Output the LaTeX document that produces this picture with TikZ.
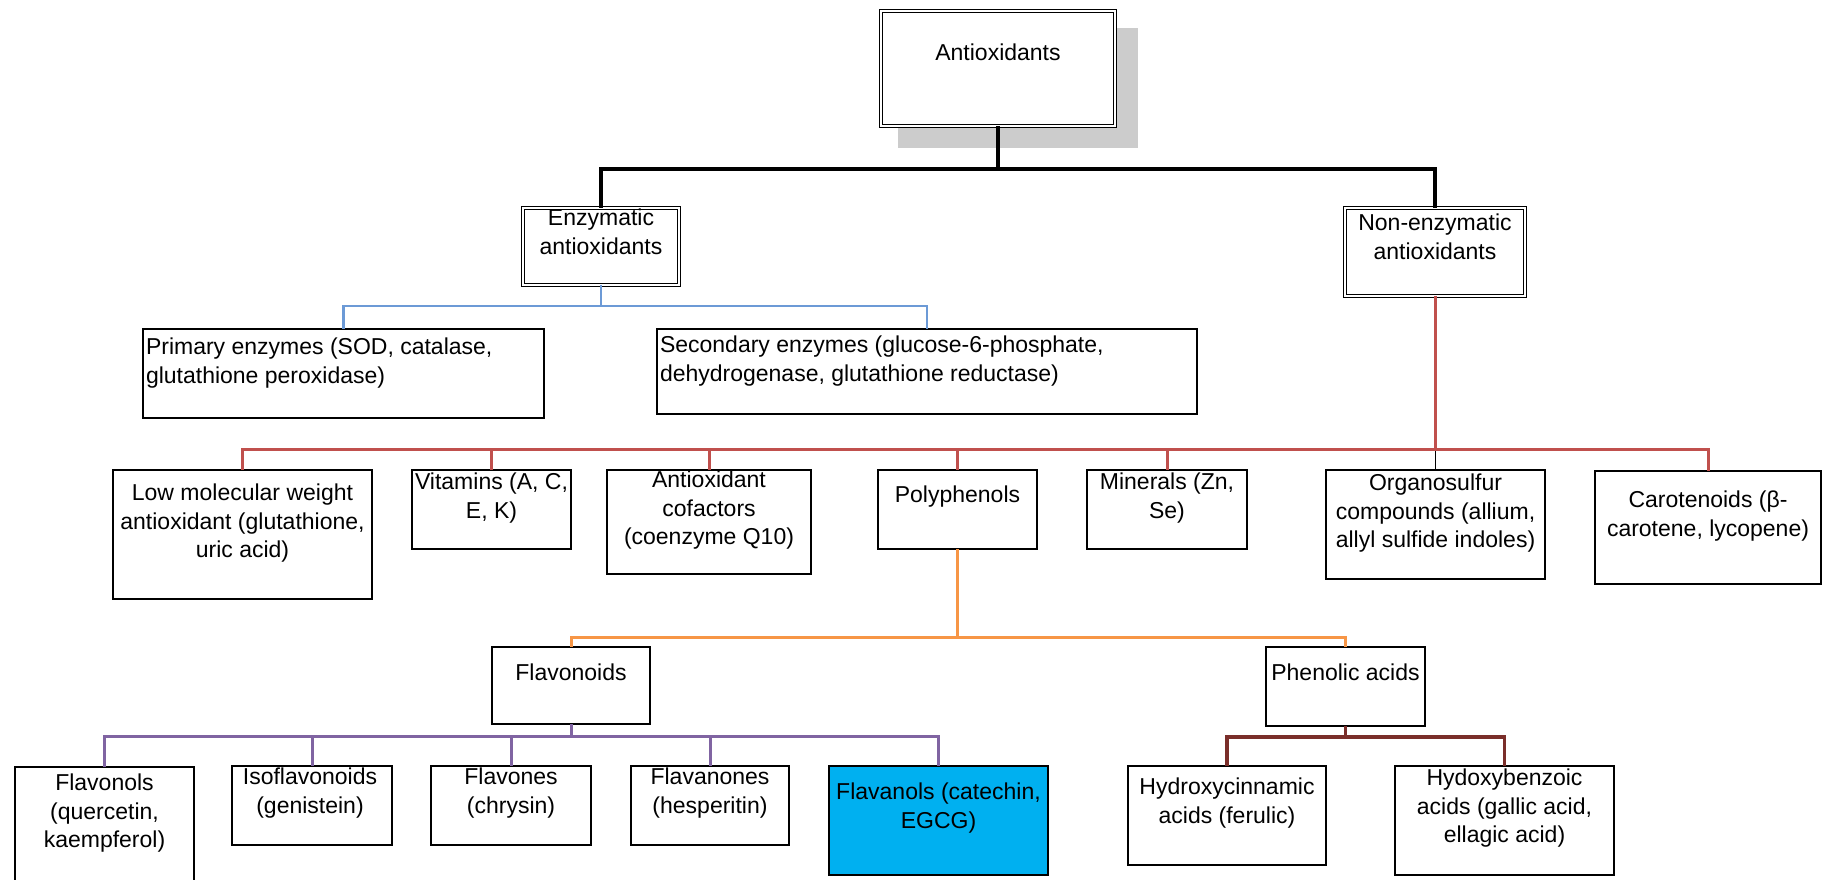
\documentclass[tikz,border=0pt]{standalone}
\usepackage{fontspec}
\setmainfont{Liberation Sans}
\definecolor{cblue}{HTML}{6C9AD6}
\definecolor{cred}{HTML}{C0504D}
\definecolor{corange}{HTML}{F79646}
\definecolor{cpurple}{HTML}{8064A2}
\definecolor{cbrown}{HTML}{7A2E2A}
\definecolor{ccyan}{HTML}{00B0F0}
\definecolor{cshadow}{HTML}{CCCCCC}
\tikzset{
  box/.style={draw=black, line width=1.5pt, rectangle, inner sep=0pt, outer sep=0pt, fill=white},
  dbox/.style={draw=black, line width=1.2pt, double=white, double distance=2.2pt, rectangle, inner sep=0pt, outer sep=0pt, fill=white},
  txt/.style={inner sep=0pt, outer sep=0pt, align=center, anchor=north, font=\fontsize{23}{28.5}\selectfont},
  ltxt/.style={txt, align=left, anchor=north west},
  kline/.style={draw=black, line width=4.5pt},
  bline/.style={draw=cblue, line width=2.2pt},
  rline/.style={draw=cred, line width=3pt},
  oline/.style={draw=corange, line width=3pt},
  pline/.style={draw=cpurple, line width=3pt},
  brline/.style={draw=cbrown, line width=3.5pt},
  gline/.style={draw=black, line width=1pt}
}
\begin{document}
\begin{tikzpicture}[x=1pt, y=-1pt]
\useasboundingbox (0,0) rectangle (1823,880);
% shadow of the root box
\fill[cshadow] (898,28) rectangle (1138,148);
% boxes
\node[dbox, minimum width=234pt, minimum height=115pt] (root) at (998,68.5) {};
\node[dbox, minimum width=156pt, minimum height=77pt] (enz) at (601,246.5) {};
\node[dbox, minimum width=180pt, minimum height=88pt] (nonenz) at (1435,252) {};
\node[box, minimum width=401pt, minimum height=89pt] (prim) at (343.5,373.5) {};
\node[box, minimum width=540pt, minimum height=85pt] (sec) at (927,371.5) {};
\node[box, minimum width=259pt, minimum height=129pt] (lmw) at (242.5,534.5) {};
\node[box, minimum width=159pt, minimum height=79pt] (vit) at (491.5,509.5) {};
\node[box, minimum width=204pt, minimum height=104pt] (cof) at (709,522) {};
\node[box, minimum width=159pt, minimum height=79pt] (poly) at (957.5,509.5) {};
\node[box, minimum width=160pt, minimum height=79pt] (min) at (1167,509.5) {};
\node[box, minimum width=219pt, minimum height=109pt] (org) at (1435.5,524.5) {};
\node[box, minimum width=226pt, minimum height=113pt] (car) at (1708,527.5) {};
\node[box, minimum width=158pt, minimum height=77pt] (flavd) at (571,685.5) {};
\node[box, minimum width=159pt, minimum height=79pt] (phen) at (1345.5,686.5) {};
\node[box, minimum width=179pt, minimum height=117pt] (fol) at (104.5,825.5) {};
\node[box, minimum width=160pt, minimum height=79pt] (iso) at (312,805.5) {};
\node[box, minimum width=160pt, minimum height=79pt] (fone) at (511,805.5) {};
\node[box, minimum width=158pt, minimum height=79pt] (fnon) at (710,805.5) {};
\node[box, fill=ccyan, minimum width=219pt, minimum height=109pt] (fanol) at (938.5,820.5) {};
\node[box, minimum width=198pt, minimum height=99pt] (hcin) at (1227,815.5) {};
\node[box, minimum width=219pt, minimum height=109pt] (hben) at (1504.5,820.5) {};
% texts
\node[txt] (troot) at (998,44) {Antioxidants};
\node[txt] (tenz) at (601,209) {Enzymatic\\antioxidants};
\node[txt] (tnonenz) at (1435,214) {Non-enzymatic\\antioxidants};
\node[ltxt] (tprim) at (146,338) {Primary enzymes (SOD, catalase,\\glutathione peroxidase)};
\node[ltxt] (tsec) at (660,336) {Secondary enzymes (glucose-6-phosphate,\\dehydrogenase, glutathione reductase)};
\node[txt] (tlmw) at (242.5,484) {Low molecular weight\\antioxidant (glutathione,\\uric acid)};
\node[txt] (tvit) at (491.5,473) {Vitamins (A, C,\\E, K)};
\node[txt] (tcof) at (709,471) {Antioxidant\\cofactors\\(coenzyme Q10)};
\node[txt] (tpoly) at (957.5,486) {Polyphenols};
\node[txt] (tmin) at (1167,473) {Minerals (Zn,\\Se)};
\node[txt] (torg) at (1435.5,474) {Organosulfur\\compounds (allium,\\allyl sulfide indoles)};
\node[txt] (tcar) at (1708,491) {Carotenoids (β-\\carotene, lycopene)};
\node[txt] (tflavd) at (571,664) {Flavonoids};
\node[txt] (tphen) at (1345.5,664) {Phenolic acids};
\node[txt] (tfol) at (104.5,774) {Flavonols\\(quercetin,\\kaempferol)};
\node[txt] (tiso) at (310,768) {Isoflavonoids\\(genistein)};
\node[txt] (tfone) at (511,768) {Flavones\\(chrysin)};
\node[txt] (tfnon) at (710,768) {Flavanones\\(hesperitin)};
\node[txt] (tfanol) at (938.5,783) {Flavanols (catechin,\\EGCG)};
\node[txt] (thcin) at (1227,778) {Hydroxycinnamic\\acids (ferulic)};
\node[txt] (thben) at (1504.5,769) {Hydoxybenzoic\\acids (gallic acid,\\ellagic acid)};
% bus coordinates
\coordinate (kb) at (0,169);
\coordinate (bb) at (0,306);
\coordinate (rb) at (0,449);
\coordinate (ob) at (0,637);
\coordinate (pb) at (0,736);
\coordinate (brb) at (0,737);
% black connectors
\draw[kline] (root.south) -- (root.south |- kb) -| (enz.north);
\draw[kline] (root.south |- kb) -| (nonenz.north);
% blue connectors
\draw[bline] (enz.south) -- (enz.south |- bb) -| (prim.north);
\draw[bline] (enz.south |- bb) -| (sec.north);
% red connectors
\draw[gline] (org.north |- rb) -- (org.north);
\draw[rline] (nonenz.south) -- (nonenz.south |- rb);
\draw[rline] (lmw.north) |- (car.north |- rb) -- (car.north);
\foreach \n in {vit,cof,poly,min} \draw[rline] (\n.north |- rb) -- (\n.north);
% orange connectors
\draw[oline] (poly.south) -- (poly.south |- ob) -| (flavd.north);
\draw[oline] (poly.south |- ob) -| (phen.north);
% purple connectors
\draw[pline] (flavd.south) -- (flavd.south |- pb);
\draw[pline] (fol.north) |- (fanol.north |- pb) -- (fanol.north);
\foreach \n in {iso,fone,fnon} \draw[pline] (\n.north |- pb) -- (\n.north);
% brown connectors
\draw[brline] (phen.south) -- (phen.south |- brb) -| (hcin.north);
\draw[brline] (phen.south |- brb) -| (hben.north);
\end{tikzpicture}
\end{document}
